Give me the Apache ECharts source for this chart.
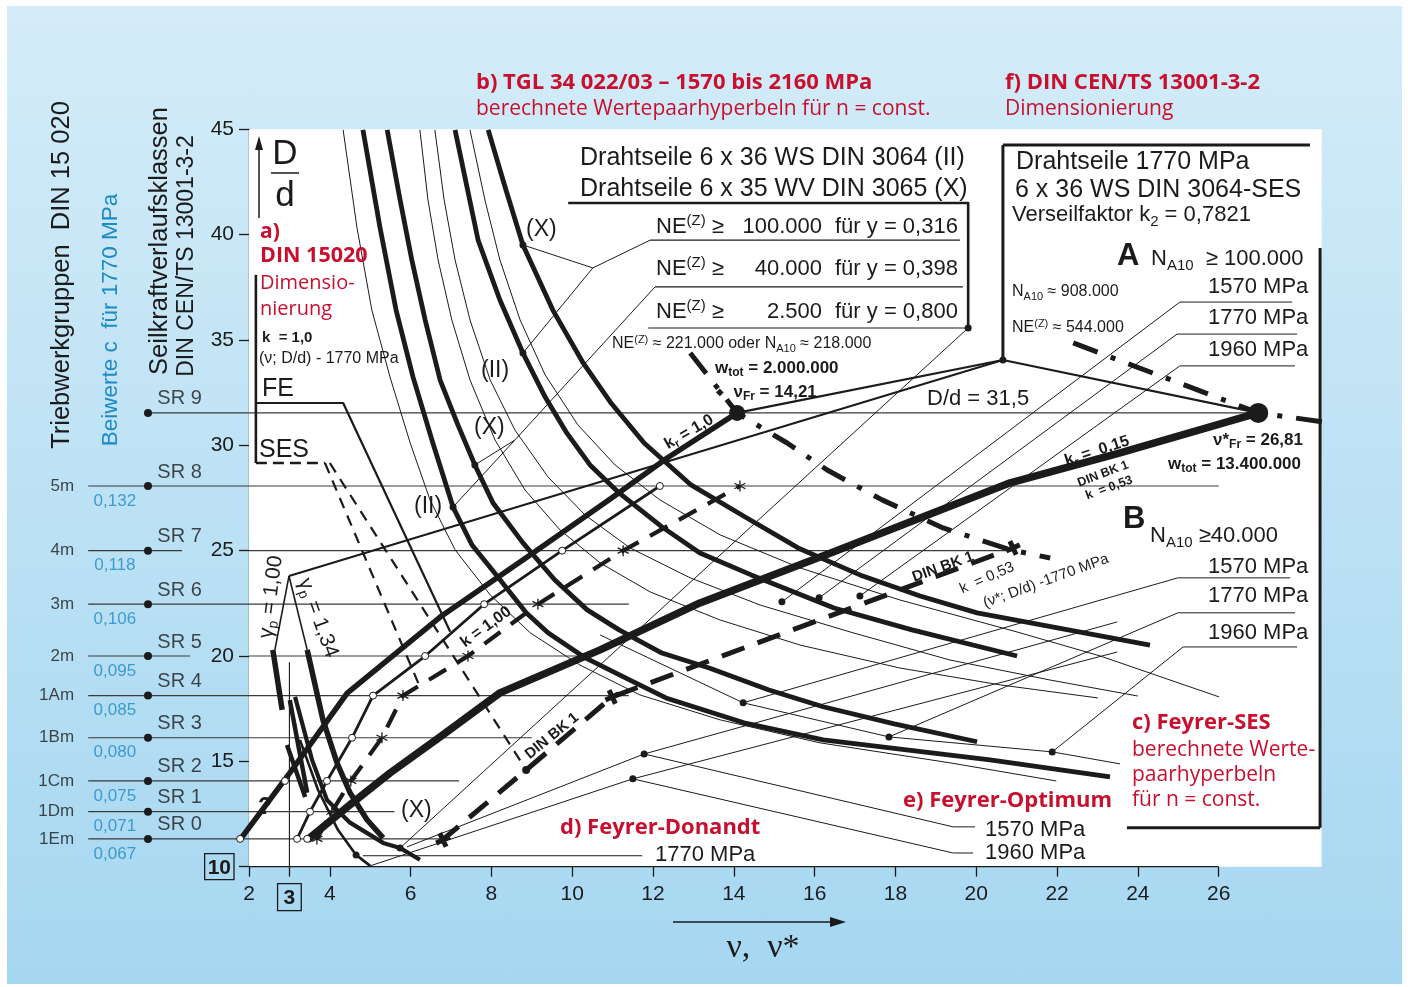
<!DOCTYPE html>
<html><head><meta charset="utf-8">
<script src="https://cdn.jsdelivr.net/npm/echarts@6/dist/echarts.min.js"></script>
<style>
html,body{margin:0;padding:0;background:#fff;}
#bg{position:absolute;left:7px;top:6px;width:1395px;height:978px;background:linear-gradient(#d4ecf8,#a6d7f1);}
#c{position:absolute;left:0;top:0;width:1408px;height:987px;}
</style></head><body><div id="bg"></div><div id="c"></div>
<script>
// ---------------- data ----------------
const X_TICKS = [2,3,4,6,8,10,12,14,16,18,20,22,24,26];
const srNames  = ['SR 0','SR 1','SR 2','SR 3','SR 4','SR 5','SR 6','SR 7','SR 8','SR 9'];
const srLevels = [11.32,12.61,14.07,16.12,18.12,20.00,22.46,25.00,28.07,31.54];
const srEnds   = [7.0,5.6,7.2,9.0,11.4,10.4,11.4,20.85,26.0,26.98];
const groupNames = ['1Em','1Dm','1Cm','1Bm','1Am','2m','3m','4m','5m'];
const cValues    = ['0,067','0,071','0,075','0,080','0,085','0,095','0,106','0,118','0,132'];

// b) TGL hyperbolas (thick)
const tglX100_x = [7.92,8.36,8.78,9.52,10.27,10.94,11.78,12.94,14.28,15.59,17.12,18.61,20.02,24.30];
const tglX100_y = [44.97,42.12,39.51,36.42,33.91,32.06,30.11,28.12,26.60,25.13,23.85,22.85,22.05,20.52];
const tglII100_x = [7.10,7.67,8.21,8.78,9.33,9.85,10.44,11.16,12.22,13.16,14.43,16.48,18.41,21.01];
const tglII100_y = [44.97,39.74,36.90,34.38,32.29,30.63,29.07,27.74,26.13,24.89,23.85,22.28,21.24,20.00];
const tglX40_x = [5.42,5.74,6.03,6.36,6.73,7.17,7.59,8.04,8.78,9.57,10.37,11.16,12.22,13.39,14.87,16.21,17.97,20.02];
const tglX40_y = [44.97,41.64,38.80,35.95,33.10,30.97,29.07,27.26,25.37,23.61,22.19,21.24,20.14,19.43,18.39,17.59,16.78,15.93];
const tglII40_x = [4.82,5.24,5.64,6.06,6.55,7.05,7.52,8.06,8.86,9.40,10.29,11.43,12.32,14.25,16.21,20.34,23.31];
const tglII40_y = [44.97,40.36,36.42,33.24,30.11,27.07,25.27,23.99,22.05,21.10,19.95,18.86,18.01,16.83,16.02,15.07,14.26];
// thin hyperbolas
const thin1_x = [4.33,4.67,5.04,5.49,5.99,6.48,7.10,7.97,8.96,10.19,11.68,13.66,16.13,19.35,21.98];
const thin1_y = [44.97,40.36,36.42,33.24,30.11,27.41,25.04,22.90,21.10,19.57,18.15,16.97,15.88,14.93,14.07];
const thin2_x = [6.23,6.43,6.68,7.02,7.47,8.09,8.83,9.70,10.69,11.93,13.66,15.64,18.11,20.59,23.01];
const thin2_y = [44.97,41.64,38.80,35.95,33.10,30.25,27.88,25.98,24.42,23.04,21.71,20.52,19.43,18.63,18.01];
const thin3_x = [6.60,6.83,7.10,7.47,7.97,8.58,9.40,10.32,11.43,12.92,14.65,16.88,19.35,21.83,24.00];
const thin3_y = [44.97,41.64,38.80,35.95,33.10,30.73,28.50,26.69,25.13,23.71,22.42,21.14,19.81,18.86,18.10];
const thin4_x = [7.47,7.84,8.21,8.71,9.33,10.14,11.06,12.17,13.66,15.64,18.11,21.01,23.07,26.01];
const thin4_y = [44.97,41.64,38.80,35.95,33.34,30.97,29.07,27.41,25.75,24.18,22.66,21.14,20.00,18.06];
const thin5_x = [10.69,14.23,17.84,21.88,23.56];
const thin5_y = [21.00,17.78,16.16,15.45,14.88];

// DIN 15020 / FE lines
const krOne_x = [1.78,3.01,4.43,6.73,9.03,11.01,12.35,14.08];
const krOne_y = [11.29,14.45,18.24,21.85,24.89,27.55,29.40,31.54];
const feCirc_x = [3.19,3.51,3.93,4.55,5.07,6.36,7.82,9.75,12.17];
const dinStar_x = [3.68,4.05,4.52,5.29,5.81,7.42,9.15,11.26,14.15];
const kr015_x = [3.44,4.50,5.49,6.73,8.21,10.69,13.16,16.46,20.84,23.56,26.98];
const kr015_y = [11.27,12.94,14.45,16.16,18.25,20.29,22.52,24.94,28.22,29.64,31.54];
const bk1_x = [6.73,8.86,10.99,20.91];
const bk1_y = [11.18,14.59,18.06,25.13];
const dd1_x = [12.92,14.08,15.32,16.31,17.67,19.18,20.84,21.83];
const dd1_y = [34.38,31.54,30.11,28.83,27.41,26.08,25.04,24.65];
const dd2_x = [22.40,26.98,29.13];
const dd2_y = [34.86,31.54,30.97];
const fr1_x = [14.08], fr1_y = [31.54];
const fr2_x = [26.98], fr2_y = [31.54];
// a) DIN 15020 bracket, FE, SES
const bracket_x = [2.17,2.17], bracket_y = [38.09,29.16];
const feLine_x = [2.17,4.33,6.98], feLine_y = [32.01,32.01,21.15];
const sesH_x = [2.17,3.88], sesH_y = [29.16,29.16];
const sesA_x = [3.88,6.23], sesA_y = [29.16,18.53];
const sesB_x = [4.00,8.83], sesB_y = [29.16,14.69];
// gamma lines and lower-left Feyrer curves
const gamma1_x = [2.99,2.64], gamma1_y = [23.80,20.29];
const gamma1T_x = [2.59,2.82], gamma1T_y = [20.29,17.44];
const gamma2_x = [2.99,3.44], gamma2_y = [23.80,20.29];
const bl1_x = [3.44,3.83,4.18,4.50,4.92,5.32], bl1_y = [20.29,16.97,14.92,13.51,12.23,11.37];
const bl2_x = [3.14,3.56,3.93,4.50,5.32,5.74,6.23], bl2_y = [18.06,15.07,13.17,12.09,11.13,10.89,10.33];
const bl3_x = [3.26,3.71,4.20,4.65,5.00], bl3_y = [16.02,13.64,11.75,10.56,10.04];
const bl4a_x = [3.01,3.44], bl4a_y = [17.91,13.51];
const bl4b_x = [2.94,3.39], bl4b_y = [15.78,13.31];
const vert3_x = [3,3], vert3_y = [10,19.7];
// b) box + leaders
const bBox_x = [9.90,19.80,19.80], bBox_y = [41.50,41.50,35.57];
const row1_x = [11.93,19.60], row1_y = [39.74,39.74];
const row2_x = [12.05,19.67], row2_y = [37.52,37.52];
const row3_x = [11.88,19.80], row3_y = [35.57,35.57];
const lead1a_x = [11.93,10.51,8.78], lead1a_y = [39.74,38.42,39.51];
const lead1b_x = [10.51,8.78], lead1b_y = [38.42,34.38];
const lead2a_x = [12.05,8.58,7.05], lead2a_y = [37.52,30.25,27.07];
const lead2b_x = [8.58,7.59], lead2b_y = [30.25,29.07];
const lead3_x = [19.80,5.74], lead3_y = [35.57,10.89];
const bDots_x = [8.78,8.78,7.59,7.05,19.80,5.74];
const bDots_y = [39.51,34.38,29.07,27.07,35.57,10.89];
// f) box + connections
const fVert_x = [20.66,20.66], fVert_y = [34.05,44.25];
const fTop_x = [20.66,28.26], fTop_y = [44.25,44.25];
const fRight_x = [28.51,28.51], fRight_y = [39.37,11.85];
const fBottom_x = [23.73,28.51], fBottom_y = [11.85,11.85];
const conA_x = [14.08,20.66,26.98], conA_y = [31.54,34.05,31.54];
const conG_x = [2.99,20.66], conG_y = [23.80,34.05];
// A / B / e / d leaders
const ldA1570_x = [15.19,25.04,27.82], ldA1570_y = [22.57,36.80,36.80];
const ldA1770_x = [16.11,24.97,27.94], ldA1770_y = [22.76,35.28,35.28];
const ldA1960_x = [17.12,25.04,27.89], ldA1960_y = [22.85,33.77,33.77];
const ldB1570_x = [14.23,24.99,27.77], ldB1570_y = [17.78,23.71,23.71];
const ldB1770_x = [17.84,24.99,27.89], ldB1770_y = [16.16,22.05,22.05];
const ldB1960_x = [21.88,25.12,27.94], ldB1960_y = [15.45,20.43,20.43];
const ldE1570_x = [11.78,19.43,19.97], ldE1570_y = [15.35,11.89,11.89];
const ldE1960_x = [11.50,19.43,19.92], ldE1960_y = [14.17,10.65,10.65];
const ldD1770_x = [4.82,11.73], ldD1770_y = [10.52,10.52];
const optL1_x = [5.91,11.78,23.49], optL1_y = [10.94,15.35,21.62];
const optL2_x = [5.00,11.50,23.49], optL2_y = [10.04,14.17,20.19];
const ldDots_x = [15.19,16.11,17.12,14.23,17.84,21.88,11.78,11.50,4.65,20.66];
const ldDots_y = [22.57,22.76,22.85,17.78,16.16,15.45,15.35,14.17,10.56,34.05];

// ---------------- build ----------------
const INK = '#1b1b1b', RED = '#c8102e', BLUE = '#1f8ac6', GL = '#3a3a3a';
const SANS = '"Liberation Sans", Arial, sans-serif';
const HUM = '"Open Sans", "Noto Sans", sans-serif';
const series = [];
const graphics = [];

function addLine(xs, ys, w, o) {
  o = o || {};
  series.push({
    type: 'line', data: xs.map((x, i) => [x, ys[i]]), symbol: 'none', showSymbol: false,
    clip: false, silent: true, animation: false, z: o.z || 4,
    lineStyle: { color: o.color || INK, width: w, type: o.type || 'solid', cap: o.cap || 'butt', join: 'round' },
    emphasis: { disabled: true }
  });
}
function addPts(xs, ys, size, o) {
  o = o || {};
  series.push({
    type: 'scatter', data: xs.map((x, i) => [x, ys[i]]), symbol: o.symbol || 'circle', symbolSize: size,
    symbolRotate: o.rotate || 0, clip: false, silent: true, animation: false, z: o.z || 8,
    itemStyle: { color: o.fill || INK, borderColor: o.stroke || INK, borderWidth: o.bw || 0, opacity: 1 },
    emphasis: { disabled: true }
  });
}
function addLabels(xs, ys, texts, lab) {
  series.push({
    type: 'scatter', data: xs.map((x, i) => ({ name: texts[i], value: [x, ys[i]] })), symbolSize: 0,
    clip: false, silent: true, animation: false, z: 9,
    label: Object.assign({ show: true, formatter: '{b}', color: INK, fontFamily: 'Liberation Sans' }, lab),
    emphasis: { disabled: true }
  });
}
function T(text, x, y, size, o) {
  o = o || {};
  const fam = o.fam || SANS;
  const wt = o.bold ? 'bold' : 'normal';
  const fill = o.fill || INK;
  const lh = Math.round(size * 1.25);
  const s = Math.round(size * 0.68);
  graphics.push({
    type: 'text', x: x, y: y, rotation: (o.rot || 0) * Math.PI / 180, z: 100, silent: true,
    style: {
      text: text, fill: fill, font: wt + ' ' + size + 'px ' + fam, lineHeight: lh,
      align: o.align || 'left', verticalAlign: 'middle', textAlign: o.align || 'left', textVerticalAlign: 'middle',
      rich: {
        sub: { fontSize: s, fontFamily: fam, fontWeight: wt, fill: fill, color: fill, verticalAlign: 'bottom', lineHeight: lh },
        sup: { fontSize: s, fontFamily: fam, fontWeight: wt, fill: fill, color: fill, verticalAlign: 'top', lineHeight: lh },
        dia: { fontSize: Math.round(size * 0.6), fontFamily: SANS, fill: fill, color: fill, lineHeight: lh }
      }
    }
  });
}
function G(type, shape, style) { graphics.push({ type: type, shape: shape, style: style, z: 100, silent: true }); }

// white plot area
series.push({ type: 'line', data: [[2, 10]], symbol: 'none', lineStyle: { opacity: 0 }, silent: true, z: 1, animation: false,
  markArea: { silent: true, itemStyle: { color: '#ffffff' }, data: [[{ xAxis: 2, yAxis: 10 }, { xAxis: 28.55, yAxis: 45 }]] } });

// SR level lines
for (let i = 0; i < srLevels.length; i++) {
  const y = srLevels[i];
  if (i === 9) addLine([-0.5, srEnds[i]], [y, y], 1.2, { color: GL, z: 3 });
  else if (i === 5 || i === 7) {
    addLine([-1.98, i === 7 ? 0.34 : 0.54], [y, y], 1.2, { color: GL, z: 3 });
    addLine([2, srEnds[i]], [y, y], 1.2, { color: GL, z: 3 });
  } else addLine([-1.98, srEnds[i]], [y, y], 1.2, { color: GL, z: 3 });
}
addPts(srLevels.map(() => -0.5), srLevels, 8);
addLabels(srLevels.slice(0, 9).map(() => -2.33), srLevels.slice(0, 9), groupNames, { position: 'left', distance: 0, fontSize: 17 });
addLabels(srLevels.slice(0, 9).map(() => -1.32), srLevels.slice(0, 9), cValues, { position: 'inside', offset: [0, 15], fontSize: 17, color: BLUE });
addLabels(srLevels.map(() => -0.27), srLevels, srNames, { position: 'right', distance: 0, offset: [0, -14], fontSize: 20 });

// axis base line and x=3 line
addLine([2, 26], [10, 10], 1.3, { z: 5 });
addLine(vert3_x, vert3_y, 1.1, { z: 3 });

// thin hyperbolas
[[thin1_x, thin1_y], [thin2_x, thin2_y], [thin3_x, thin3_y], [thin4_x, thin4_y], [thin5_x, thin5_y]].forEach(c => addLine(c[0], c[1], 1.0));
// thick hyperbolas
[[tglX100_x, tglX100_y], [tglII100_x, tglII100_y], [tglX40_x, tglX40_y], [tglII40_x, tglII40_y]].forEach(c => addLine(c[0], c[1], 4.8));

// a) section
addLine(bracket_x, bracket_y, 2.6);
addLine(feLine_x, feLine_y, 2.2);
addLine(sesH_x, sesH_y, 2.4, { type: [11, 6] });
addLine(sesA_x, sesA_y, 2.2, { type: [11, 8] });
addLine(sesB_x, sesB_y, 2.2, { type: [11, 8] });

// gamma + lower-left
addLine(gamma1_x, gamma1_y, 1.6);
addLine(gamma2_x, gamma2_y, 1.6);
addLine(gamma1T_x, gamma1T_y, 5.5);
addLine(bl1_x, bl1_y, 5.5);
addLine(bl2_x, bl2_y, 4.2);
addLine(bl3_x, bl3_y, 2.6);
addLine(bl4a_x, bl4a_y, 4.5);
addLine(bl4b_x, bl4b_y, 4.5);

// FE / DIN lines
addLine(krOne_x, krOne_y, 5.5, { z: 5 });
addLine(feCirc_x, srLevels.slice(0, 9), 2.8, { z: 5 });
addLine(dinStar_x, srLevels.slice(0, 9), 4.2, { type: [20, 13], z: 5 });
addLine(kr015_x, kr015_y, 7.5, { z: 5 });
addLine(bk1_x, bk1_y, 5, { type: [24, 14], z: 5 });
addLine(dd1_x, dd1_y, 5, { type: [26, 14, 5, 14], z: 5 });
addLine(dd2_x, dd2_y, 5, { type: [26, 14, 5, 14], z: 5 });

// boxes
addLine(bBox_x, bBox_y, 2.6);
addLine(row1_x, row1_y, 1.2);
addLine(row2_x, row2_y, 1.2);
addLine(row3_x, row3_y, 1.2);
[[lead1a_x, lead1a_y], [lead1b_x, lead1b_y], [lead2a_x, lead2a_y], [lead2b_x, lead2b_y], [lead3_x, lead3_y]].forEach(c => addLine(c[0], c[1], 1.0));
addLine(fVert_x, fVert_y, 3);
addLine(fTop_x, fTop_y, 3);
addLine(fRight_x, fRight_y, 3);
addLine(fBottom_x, fBottom_y, 3);
addLine(conA_x, conA_y, 2.2);
addLine(conG_x, conG_y, 2.0);

// leaders
[[ldA1570_x, ldA1570_y], [ldA1770_x, ldA1770_y], [ldA1960_x, ldA1960_y], [ldB1570_x, ldB1570_y], [ldB1770_x, ldB1770_y],
 [ldB1960_x, ldB1960_y], [ldE1570_x, ldE1570_y], [ldE1960_x, ldE1960_y], [ldD1770_x, ldD1770_y], [optL1_x, optL1_y], [optL2_x, optL2_y]]
  .forEach(c => addLine(c[0], c[1], 1.0));

// markers
addPts(bDots_x, bDots_y, 7);
addPts(ldDots_x, ldDots_y, 7);
addPts(feCirc_x, srLevels.slice(0, 9), 7, { fill: '#fff', stroke: INK, bw: 1 });
addPts([krOne_x[0], 2.89, kr015_x[0]], [11.32, 14.07, 11.32], 7, { fill: '#fff', stroke: INK, bw: 1 });
addPts(dinStar_x, srLevels.slice(0, 9), 11, { symbol: 'path://M0,-6L0,6M-5.2,-3L5.2,3M-5.2,3L5.2,-3', fill: 'none', stroke: INK, bw: 1.3 });
addPts([6.80, bk1_x[2], bk1_x[3]], [11.27, bk1_y[2], bk1_y[3]], 15, { symbol: 'path://M-2,-6H2V-2H6V2H2V6H-2V2H-6V-2H-2Z', rotate: 25 });
addPts([bk1_x[1]], [bk1_y[1]], 8);
addPts(fr1_x, fr1_y, 16, { z: 9 });
addPts(fr2_x, fr2_y, 20, { z: 9 });

// ---------------- texts ----------------
T('Triebwerkgruppen  DIN 15 020', 62, 275, 25.5, { rot: 90, align: 'center' });
T('Beiwerte c  für 1770 MPa', 111, 320, 22.5, { rot: 90, align: 'center', fill: BLUE });
T('Seilkraftverlaufsklassen', 160, 241, 25.5, { rot: 90, align: 'center' });
T('DIN CEN/TS 13001-3-2', 187, 256, 23, { rot: 90, align: 'center' });

T('b) TGL 34 022/03 – 1570 bis 2160 MPa', 476, 83, 22, { bold: 1, fill: RED, fam: HUM });
T('berechnete Wertepaarhyperbeln für n = const.', 476, 109, 21, { fill: RED, fam: HUM });
T('f) DIN CEN/TS 13001-3-2', 1005, 83, 22, { bold: 1, fill: RED, fam: HUM });
T('Dimensionierung', 1005, 109, 21, { fill: RED, fam: HUM });

T('a)', 260, 232, 21, { bold: 1, fill: RED, fam: HUM });
T('DIN 15020', 260, 256, 21.5, { bold: 1, fill: RED, fam: HUM });
T('Dimensio-', 260, 283, 20, { fill: RED, fam: HUM });
T('nierung', 260, 309, 20, { fill: RED, fam: HUM });
T('k  = 1,0', 262, 338, 15, { bold: 1 });
T('(ν; D/d) - 1770 MPa', 259, 359, 16);
T('FE', 262, 389, 25);
T('SES', 259, 450, 25);
T('D', 285, 154, 35, { align: 'center' });
T('d', 285, 196, 35, { align: 'center' });
G('line', { x1: 271, y1: 173, x2: 299, y2: 173 }, { stroke: INK, lineWidth: 1.5 });
G('line', { x1: 259, y1: 218, x2: 259, y2: 146 }, { stroke: INK, lineWidth: 1.5 });
G('polygon', { points: [[259, 136], [255, 150], [263, 150]] }, { fill: INK });

T('Drahtseile 6 x 36 WS DIN 3064 (II)', 580, 158, 25);
T('Drahtseile 6 x 35 WV DIN 3065 (X)', 580, 189, 25);
const neRows = [['100.000', '0,316', 227], ['40.000', '0,398', 269], ['2.500', '0,800', 312]];
neRows.forEach(r => {
  T('NE{sup|(Z)} ≥', 656, r[2], 22);
  T(r[0], 822, r[2], 22, { align: 'right' });
  T('für y = ' + r[1], 835, r[2], 22);
});
T('NE{sup|(Z)} ≈ 221.000 oder N{sub|A10} ≈ 218.000', 612, 344, 16);
T('w{sub|tot} = 2.000.000', 715, 368, 17, { bold: 1 });
T('{dia|◆}  ν{sub|Fr} = 14,21', 716, 392, 17, { bold: 1 });
T('D/d = 31,5', 927, 399, 22);
T('(X)', 526, 230, 23);
T('(II)', 481, 371, 23);
T('(X)', 474, 428, 23);
T('(II)', 414, 507, 23);
T('(X)', 401, 811, 23);
T('k{sub|r} = 1,0', 689, 432, 16, { bold: 1, rot: 30, align: 'center' });
T('k = 1,00', 486, 627, 16, { bold: 1, rot: 36, align: 'center' });
T('DIN BK 1', 552, 736, 15, { bold: 1, rot: 39, align: 'center' });
T('DIN BK 1', 943, 567, 15, { bold: 1, rot: 20, align: 'center' });
T('k  = 0,53', 987, 578, 15, { rot: 24, align: 'center' });
T('(ν*; D/d) -1770 MPa', 1046, 581, 15, { rot: 20, align: 'center' });
T('γ{sub|p} = 1,00', 271, 597, 21, { rot: 83, align: 'center' });
T('γ{sub|p} = 1,34', 318, 618, 21, { rot: -70, align: 'center' });
T('?', 265, 808, 23, { bold: 1, align: 'center' });

T('Drahtseile 1770 MPa', 1016, 162, 25);
T('6 x 36 WS DIN 3064-SES', 1015, 190, 25);
T('Verseilfaktor k{sub|2} = 0,7821', 1012, 215, 22);
T('A', 1117, 256, 31, { bold: 1 });
T('N{sub|A10}  ≥ 100.000', 1151, 259, 22);
T('1570 MPa', 1208, 287, 22);
T('1770 MPa', 1208, 318, 22);
T('1960 MPa', 1208, 350, 22);
T('N{sub|A10} ≈ 908.000', 1012, 292, 16);
T('NE{sup|(Z)} ≈ 544.000', 1012, 328, 16);
T('ν*{sub|Fr} = 26,81', 1213, 440, 17, { bold: 1 });
T('w{sub|tot} = 13.400.000', 1168, 464, 17, { bold: 1 });
T('k{sub|r} =  0,15', 1097, 451, 16, { bold: 1, rot: 18, align: 'center' });
T('DIN BK 1', 1103, 474, 12.5, { bold: 1, rot: 21, align: 'center' });
T('k  = 0,53', 1109, 488, 12.5, { bold: 1, rot: 20, align: 'center' });
T('B', 1123, 519, 31, { bold: 1 });
T('N{sub|A10} ≥40.000', 1150, 536, 22);
T('1570 MPa', 1208, 567, 22);
T('1770 MPa', 1208, 596, 22);
T('1960 MPa', 1208, 633, 22);
T('c) Feyrer-SES', 1132, 723, 22, { bold: 1, fill: RED, fam: HUM });
T('berechnete Werte-', 1132, 750, 21, { fill: RED, fam: HUM });
T('paarhyperbeln', 1132, 775, 21, { fill: RED, fam: HUM });
T('für n = const.', 1132, 800, 21, { fill: RED, fam: HUM });
T('e) Feyrer-Optimum', 903, 801, 22, { bold: 1, fill: RED, fam: HUM });
T('1570 MPa', 985, 830, 22);
T('1960 MPa', 985, 853, 22);
T('d) Feyrer-Donandt', 560, 828, 22, { bold: 1, fill: RED, fam: HUM });
T('1770 MPa', 655, 855, 22);

T('ν,  ν*', 763, 948, 34, { align: 'center', fam: '"Liberation Serif", "DejaVu Serif", serif' });
G('line', { x1: 673, y1: 922, x2: 832, y2: 922 }, { stroke: INK, lineWidth: 1.6 });
G('polygon', { points: [[846, 922], [830, 917], [830, 927]] }, { fill: INK });

// ---------------- chart ----------------
const chart = echarts.init(document.getElementById('c'), null, { renderer: 'canvas' });
chart.setOption({
  backgroundColor: 'transparent',
  animation: false,
  grid: { left: 87.4, right: 86.3, top: 129.3, bottom: 120.3, containLabel: false, outerBoundsMode: 'none' },
  xAxis: {
    type: 'value', min: -2, max: 28.55,
    axisLine: { show: false }, splitLine: { show: false },
    axisTick: { show: true, customValues: X_TICKS, length: 10, lineStyle: { color: INK, width: 1.3 } },
    axisLabel: {
      customValues: X_TICKS, margin: 17, fontSize: 21, color: INK, fontFamily: 'Liberation Sans',
      formatter: v => (v === 3 ? '{b|3}' : String(v)),
      rich: { b: { fontSize: 21, fontWeight: 'bold', fontFamily: 'Liberation Sans', color: INK, borderColor: INK, borderWidth: 1.3, padding: [4, 6, 2, 6] } }
    }
  },
  yAxis: {
    type: 'value', min: 10, max: 45, interval: 5, offset: -(249 - 87.4),
    axisLine: { show: true, lineStyle: { color: INK, width: 1.3 } },
    axisTick: { show: true, length: 10, lineStyle: { color: INK, width: 1.3 } },
    splitLine: { show: false },
    axisLabel: {
      margin: 15, fontSize: 21, color: INK, fontFamily: 'Liberation Sans',
      formatter: v => (v === 10 ? '{b|10}' : String(v)),
      rich: { b: { fontSize: 21, fontWeight: 'bold', fontFamily: 'Liberation Sans', color: INK, borderColor: INK, borderWidth: 1.3, padding: [4, 3, 1, 3] } }
    }
  },
  series: series,
  graphic: { elements: graphics }
});
</script></body></html>
